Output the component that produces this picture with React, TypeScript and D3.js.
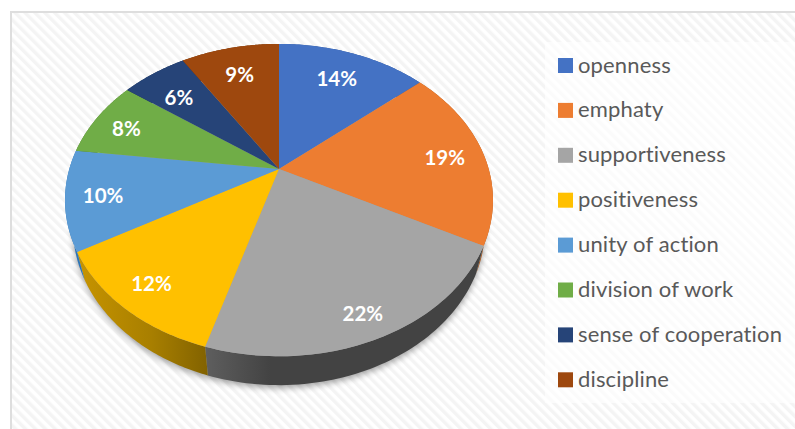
import React from "react";
import * as d3 from "d3";

const categories = ["openness", "emphaty", "supportiveness", "positiveness", "unity of action", "division of work", "sense of cooperation", "discipline"];
const values = [13.7, 19, 21.9, 12.1, 10.3, 8, 6, 9];
const colors = ["#4472C4", "#ED7D31", "#A5A5A5", "#FFC000", "#5B9BD5", "#70AD47", "#264478", "#9E480E"];
const wallColors = ["#2F5597", "#A9591F", "#434343", "#7F6000", "#2E75B6", "#4E7A31", "#1A2F54", "#6E320A"];

const W = 795, H = 429;
const labelNudge: [number, number][] = [[0, -1], [12, 0], [13, 24], [-17, 14], [-17, 3], [-14, -2], [-3, 2], [-1, -1]];

const tilt = -0.199;
const project = (a: number, f: number, cx: number, cy: number, rx: number, ry: number): [number, number] => {
  const u = Math.sin(a) * f, v = -Math.cos(a) * f;
  const w = 1 + tilt * v;
  return [cx + (rx * u) / w, cy + (ry * v) / w];
};
const top = (a: number, f = 1) => project(a, f, 279, 169, 209.7, 150);
const base = (a: number) => project(a, 1, 279, 196, 202, 151.5);

const pie = d3.pie<number>().sort(null).startAngle(0).endAngle(2 * Math.PI);
const arcs = pie(values);
const line = d3.line();
const sample = (a: number, b: number) => d3.range(0, 61).map((i) => a + ((b - a) * i) / 60);

const topPath = (a: number, b: number) => line([top(0, 0), ...sample(a, b).map((t) => top(t))]) + "Z";
const wallPath = (a: number, b: number) =>
  line([...sample(a, b).map((t) => top(t)), ...sample(b, a).map((t) => base(t))]) + "Z";
const basePath = line(sample(0, 2 * Math.PI).map((t) => base(t))) + "Z";

export default function App() {
  return (
    <svg width={W} height={H} style={{ position: "absolute", left: 0, top: 0, display: "block" }} fontFamily="Lato, Carlito, sans-serif">
      <defs>
        <pattern id="hatch" width="7" height="7" patternUnits="userSpaceOnUse" patternTransform="rotate(-45)">
          <rect width="7" height="7" fill="#ffffff" />
          <rect width="3.4" height="7" fill="#f4f4f4" />
        </pattern>
        <pattern id="hatch2" width="7" height="7" patternUnits="userSpaceOnUse" patternTransform="rotate(-45)">
          <rect width="7" height="7" fill="#ffffff" />
          <rect width="3.4" height="7" fill="#fbfbfb" />
        </pattern>
        <filter id="soft" x="-10%" y="-10%" width="120%" height="120%">
          <feGaussianBlur stdDeviation="3" />
        </filter>
        <linearGradient id="wall3" gradientUnits="userSpaceOnUse" x1="77" x2="212" y1="0" y2="0">
          <stop offset="0" stopColor="#C79400" />
          <stop offset="0.55" stopColor="#A87F00" />
          <stop offset="1" stopColor="#7F6000" />
        </linearGradient>
        <linearGradient id="wall2" gradientUnits="userSpaceOnUse" x1="206" x2="270" y1="0" y2="0">
          <stop offset="0" stopColor="#5E5E5E" />
          <stop offset="1" stopColor="#434343" />
        </linearGradient>
      </defs>
      <rect x={0} y={0} width={W} height={H} fill="#fff" />
      <rect x={11} y={12} width={W} height={H} fill="url(#hatch)" stroke="#DEDEDE" strokeWidth={2} />
      <rect x={545} y={42} width={W - 545} height={361} fill="url(#hatch2)" />
      <path d={basePath} fill="#000" opacity={0.36} filter="url(#soft)" transform="translate(0,3)" />
      <g>
        {arcs.map((d, i) => (
          <path key={i} d={wallPath(d.startAngle, d.endAngle)} fill={i === 3 ? "url(#wall3)" : i === 2 ? "url(#wall2)" : wallColors[i]} />
        ))}
      </g>
      <g>
        {arcs.map((d, i) => (
          <path key={i} d={topPath(d.startAngle, d.endAngle)} fill={colors[i]} />
        ))}
      </g>
      <g fill="#fff" fontWeight={700} fontSize={20.5} textAnchor="middle" dominantBaseline="central">
        {arcs.map((d, i) => {
          const [x, y] = top((d.startAngle + d.endAngle) / 2, 0.75);
          return (
            <text key={i} x={x + labelNudge[i][0]} y={y + labelNudge[i][1]}>
              {Math.round(values[i])}%
            </text>
          );
        })}
      </g>
      <g>
        {categories.map((c, i) => (
          <g key={c} transform={`translate(558,${58 + i * 44.9})`}>
            <rect width={15} height={15} fill={colors[i]} />
            <text x={20} y={14.5} fontSize={22} fill="#595959" letterSpacing={0.15}>
              {c}
            </text>
          </g>
        ))}
      </g>
    </svg>
  );
}
